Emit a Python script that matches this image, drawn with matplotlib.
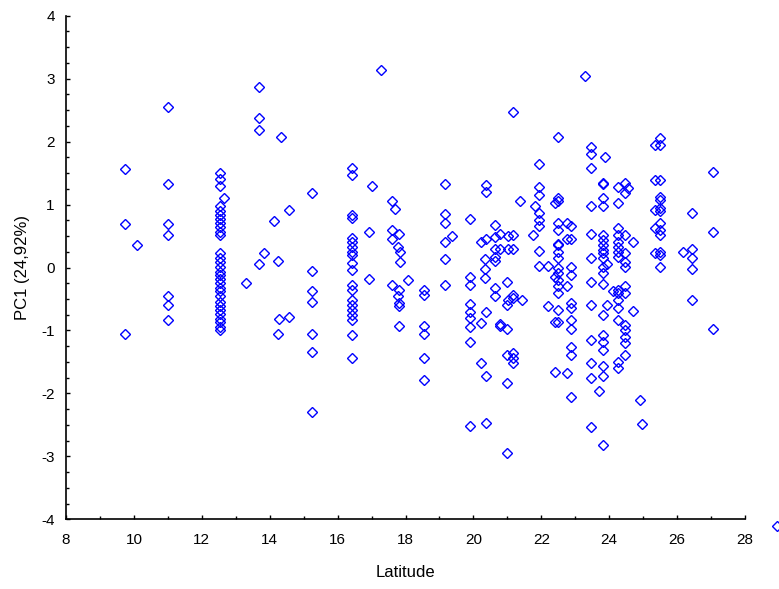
import matplotlib
matplotlib.use("Agg")
import matplotlib.pyplot as plt
from matplotlib.ticker import MultipleLocator

plt.rcParams['font.family'] = ['Liberation Sans', 'DejaVu Sans']
plt.rcParams['axes.unicode_minus'] = False

# (latitude, PC1) pairs, grouped by latitude column
lat_a = [9.75, 9.75, 9.75, 10.1]
pc_a = [1.57, 0.69, -1.06, 0.35]

lat_b = [11.0] * 7
pc_b = [2.55, 1.33, 0.69, 0.52, -0.45, -0.60, -0.83]

lat_c = [12.55] * 30 + [12.65, 13.3]
pc_c = [1.50, 1.40, 1.30, 0.97, 0.90, 0.83, 0.77, 0.70, 0.64, 0.57, 0.51,
        0.23, 0.15, 0.08, 0.01, -0.07, -0.12, -0.19, -0.25, -0.32, -0.38,
        -0.46, -0.54, -0.61, -0.68, -0.74, -0.81, -0.87, -0.94, -0.99,
        1.11, -0.24]

lat_d = [13.69, 13.69, 13.69, 13.69, 13.83, 14.14, 14.24, 14.32, 14.28,
         14.57, 14.24, 14.57]
pc_d = [2.87, 2.38, 2.18, 0.05, 0.23, 0.74, 0.10, 2.08, -0.81, -0.78,
        -1.05, 0.91]

lat_e = [15.24] * 7
pc_e = [1.18, -0.05, -0.37, -0.54, -1.05, -1.34, -2.30]

lat_f = [16.41] * 20 + [16.92, 16.92, 17.01, 17.29]
pc_f = [1.58, 1.47, 0.83, 0.78, 0.47, 0.41, 0.33, 0.25, 0.20, 0.07, -0.04,
        -0.27, -0.36, -0.52, -0.60, -0.68, -0.75, -0.83, -1.07, -1.44,
        0.57, -0.19, 1.30, 3.14]

lat_g = [17.59, 17.69, 17.59, 17.59, 17.59, 17.81, 17.77, 17.84, 17.84,
         17.81, 17.77, 17.81, 17.81, 17.81, 18.06]
pc_g = [1.06, 0.93, 0.60, 0.45, -0.27, 0.54, 0.33, 0.24, 0.09, -0.36, -0.46,
        -0.56, -0.61, -0.93, -0.20]

lat_h = [18.55] * 6 + [19.17] * 6 + [19.38]
pc_h = [-0.35, -0.44, -0.93, -1.05, -1.44, -1.79,
        1.33, 0.85, 0.70, 0.41, 0.13, -0.27, 0.50]

lat_i = [19.9] * 9
pc_i = [0.77, -0.15, -0.27, -0.58, -0.70, -0.80, -0.94, -1.18, -2.52]

lat_j = [20.36, 20.36, 20.36, 20.36, 20.36, 20.22, 20.22, 20.22, 20.33,
         20.33, 20.33, 20.36, 20.64, 20.64, 20.64, 20.64, 20.64, 20.64,
         20.64, 20.78, 20.78, 20.78, 20.78]
pc_j = [1.31, 1.20, -0.70, -1.73, -2.47, 0.41, -0.88, -1.51, 0.13, -0.03,
        -0.17, 0.45, 0.68, 0.49, 0.30, 0.17, 0.11, -0.33, -0.45, 0.54,
        0.29, -0.89, -0.93]

lat_k = [21.0, 21.0, 20.98, 21.0, 21.0, 21.0, 21.18, 21.18, 21.18, 21.18,
         21.18, 21.18, 21.18, 21.18, 21.02, 21.02, 21.02, 21.42, 21.37]
pc_k = [-0.23, -0.60, -0.97, -1.39, -1.84, -2.95, 2.47, 0.52, 0.30, -0.44,
        -0.49, -1.36, -1.44, -1.52, 0.50, 0.30, -0.52, -0.52, 1.05]

lat_l = [21.93] * 8 + [21.81, 21.75, 22.2, 22.2]
pc_l = [1.64, 1.28, 1.15, 0.86, 0.75, 0.66, 0.27, 0.02, 0.98, 0.52, 0.02,
        -0.61]

lat_m = [22.5] * 16 + [22.4] * 4 + [22.75] * 4
pc_m = [2.08, 1.10, 1.05, 0.70, 0.60, 0.38, 0.36, 0.25, 0.15, -0.01, -0.09,
        -0.20, -0.30, -0.41, -0.68, -0.86,
        1.02, -0.15, -0.86, -1.66,
        0.70, 0.46, -0.30, -1.68]

lat_n = [22.87] * 11 + [23.29]
pc_n = [0.66, 0.46, 0.01, -0.12, -0.57, -0.65, -0.83, -0.98, -1.26, -1.39,
        -2.05, 3.04]

lat_o = [23.45] * 12 + [23.71]
pc_o = [1.92, 1.81, 1.58, 0.97, 0.54, 0.15, -0.23, -0.60, -1.15, -1.52,
        -1.76, -2.53, -1.96]

lat_p = [23.88] + [23.83] * 20 + [23.93, 23.93, 24.12]
pc_p = [1.76, 1.35, 1.32, 1.10, 0.97, 0.52, 0.44, 0.36, 0.28, 0.23, 0.15,
        0.01, -0.09, -0.26, -0.75, -1.07, -1.18, -1.31, -1.56, -1.73, -2.82,
        0.06, -0.60, -0.37]

lat_q = [24.27] * 15
pc_q = [1.28, 1.03, 0.62, 0.52, 0.41, 0.33, 0.25, 0.17, -0.35, -0.41, -0.52,
        -0.65, -0.83, -1.50, -1.60]

lat_r = [24.46] * 13 + [24.56, 24.71, 24.71, 24.91, 24.96]
pc_r = [1.34, 1.18, 0.52, 0.23, 0.09, 0.01, -0.30, -0.41, -0.91, -0.99,
        -1.10, -1.20, -1.39, 1.26, 0.41, -0.69, -2.10, -2.49]

lat_s = [25.35] * 5 + [25.5] * 13
pc_s = [1.95, 1.39, 0.91, 0.62, 0.23,
        2.06, 1.95, 1.39, 1.12, 1.07, 0.94, 0.89, 0.70, 0.60, 0.52, 0.25,
        0.20, 0.01]

lat_t = [26.18, 26.43, 26.43, 26.43, 26.43, 26.43, 27.07, 27.07, 27.07]
pc_t = [0.25, 0.86, 0.30, 0.15, -0.03, -0.52, 1.52, 0.57, -0.98]

# one stray point drawn outside the axes frame in the reference
lat_out = [28.93]
pc_out = [-4.11]

latitude = (lat_a + lat_b + lat_c + lat_d + lat_e + lat_f + lat_g + lat_h +
            lat_i + lat_j + lat_k + lat_l + lat_m + lat_n + lat_o + lat_p +
            lat_q + lat_r + lat_s + lat_t)
pc1 = (pc_a + pc_b + pc_c + pc_d + pc_e + pc_f + pc_g + pc_h + pc_i + pc_j +
       pc_k + pc_l + pc_m + pc_n + pc_o + pc_p + pc_q + pc_r + pc_s + pc_t)

x_ticks = [8, 10, 12, 14, 16, 18, 20, 22, 24, 26, 28]
y_ticks = [-4, -3, -2, -1, 0, 1, 2, 3, 4]

fig = plt.figure(figsize=(7.79, 5.89), dpi=100)
ax = fig.add_axes([0.0847, 0.1183, 0.8717, 0.855])

mk = dict(marker='D', linestyle='none', markersize=5.0,
          markerfacecolor='none', markeredgecolor='#0000FF',
          markeredgewidth=1.0)
ax.plot(latitude, pc1, **mk)
ax.plot(lat_out, pc_out, clip_on=False, **mk)

ax.set_xlim(8, 28)
ax.set_ylim(-4, 4)
ax.set_xticks(x_ticks)
ax.set_yticks(y_ticks)
ax.xaxis.set_minor_locator(MultipleLocator(1))
ax.yaxis.set_minor_locator(MultipleLocator(0.25))

for s in ['top', 'right']:
    ax.spines[s].set_visible(False)
for s in ['left', 'bottom']:
    ax.spines[s].set_linewidth(1.2)
    ax.spines[s].set_color('black')

ax.tick_params(which='major', direction='in', length=3, width=1,
               labelsize=11, pad=8)
ax.tick_params(axis='x', which='major', pad=10)
ax.tick_params(which='minor', direction='in', length=2, width=1)

ax.set_xlabel('Latitude', fontsize=12, labelpad=13)
ax.set_ylabel('PC1 (24,92%)', fontsize=12, labelpad=8)

fig.savefig('out.png', dpi=100)
